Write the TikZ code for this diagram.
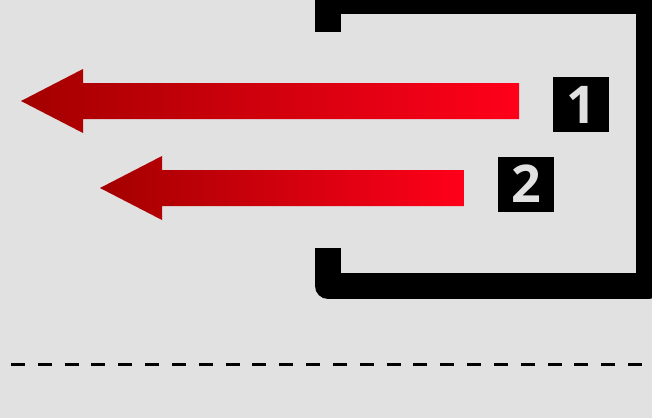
\documentclass[tikz,border=0pt]{standalone}
\usepackage{fontspec}
\newfontfamily\numfont{Open Sans}
\usetikzlibrary{positioning, calc}

\definecolor{bg}{HTML}{E0E1E0}
\definecolor{darkred}{HTML}{A30000}
\definecolor{brightred}{HTML}{FF001A}

\begin{document}
\begin{tikzpicture}[
    x=1pt, y=-1pt,
    bracket/.style={draw=black, line width=26pt, line join=round},
    numbox/.style={rectangle, fill=black, minimum width=56pt, minimum height=55pt, inner sep=0pt, text=bg, font=\numfont\bfseries\fontsize{52}{52}\selectfont},
    redarrow/.style={left color=darkred, right color=brightred},
    divider/.style={line width=3pt, dash pattern=on 14pt off 12.83pt}
]
    % Canvas
    \fill[bg] (0,0) rectangle (652,418);
    \clip (0,0) rectangle (652,418);

    % Arrow dimensions
    \def\headlen{62}
    \def\headhalf{32}
    \def\shafthalf{18}

    % Open frame on the right
    \draw[bracket] (328,32) -- (328,1) -- (649,1) -- (649,286) -- (328,286) -- (328,248);

    % Arrows: tip x / shaft end x / centre y
    \foreach \tipx/\endx/\yc in {21/519/101, 100/464/188} {
        \shade[redarrow] (\endx,\yc-\shafthalf) -- (\tipx+\headlen,\yc-\shafthalf)
            -- (\tipx+\headlen,\yc-\headhalf) -- (\tipx,\yc)
            -- (\tipx+\headlen,\yc+\headhalf) -- (\tipx+\headlen,\yc+\shafthalf)
            -- (\endx,\yc+\shafthalf) -- cycle;
    }

    % Numbers
    \node[numbox] (num1) at (581,104.5) {1};
    \node[numbox] (num2) at (526,184) {2};

    % Divider
    \draw[divider] (11,364) -- (642,364);

\end{tikzpicture}
\end{document}
